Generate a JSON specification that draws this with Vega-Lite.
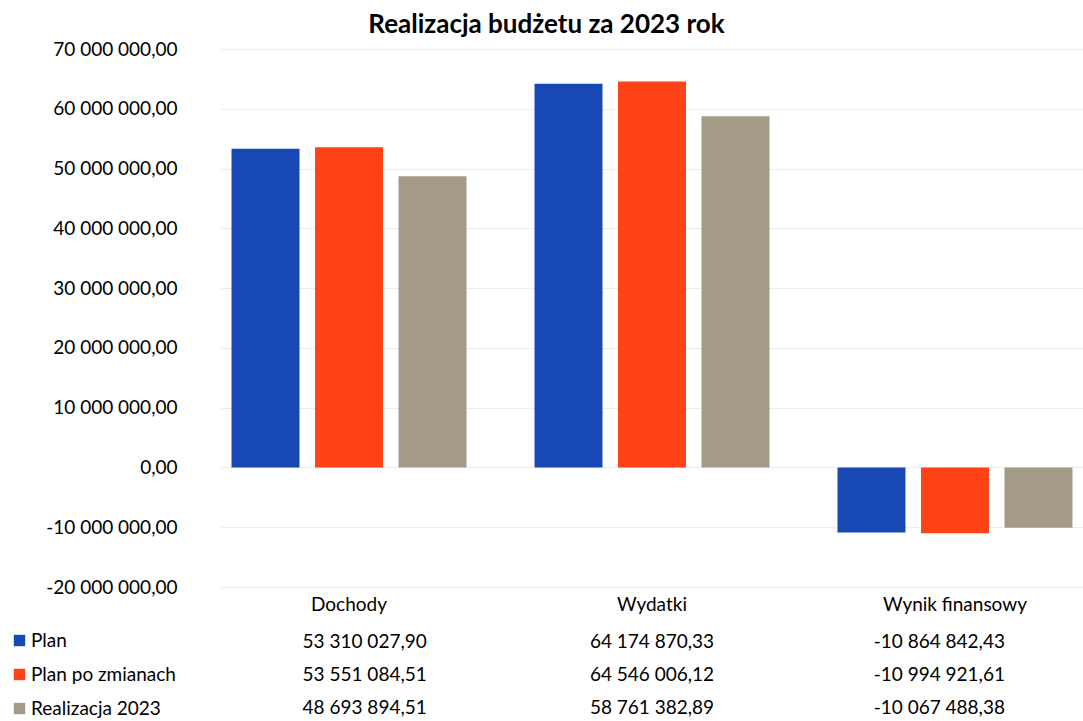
{
  "$schema": "https://vega.github.io/schema/vega-lite/v6.json",
  "autosize": {"type": "pad"},
  "padding": {"left": 10, "top": 12, "right": 0, "bottom": 0},
  "background": "white",
  "config": {
    "locale": {"number": {"decimal": ",", "thousands": " ", "grouping": [3], "currency": ["", " zł"], "minus": "-"}},
    "view": {"stroke": null},
    "font": "Lato",
    "axis": {"labelColor": "#000000", "labelFont": "Lato"},
    "text": {"font": "Lato"}
  },
  "title": {"text": "Realizacja budżetu za 2023 rok", "fontSize": 26, "fontWeight": "bold", "font": "Lato", "color": "#000000", "anchor": "middle", "offset": 2},
  "datasets": {
    "budget": [
      {"category": "Dochody", "series": "Plan", "value": 53310027.90},
      {"category": "Dochody", "series": "Plan po zmianach", "value": 53551084.51},
      {"category": "Dochody", "series": "Realizacja 2023", "value": 48693894.51},
      {"category": "Wydatki", "series": "Plan", "value": 64174870.33},
      {"category": "Wydatki", "series": "Plan po zmianach", "value": 64546006.12},
      {"category": "Wydatki", "series": "Realizacja 2023", "value": 58761382.89},
      {"category": "Wynik finansowy", "series": "Plan", "value": -10864842.43},
      {"category": "Wynik finansowy", "series": "Plan po zmianach", "value": -10994921.61},
      {"category": "Wynik finansowy", "series": "Realizacja 2023", "value": -10067488.38}
    ]
  },
  "bounds": "flush",
  "spacing": 37,
  "vconcat": [
    {
      "width": 862,
      "height": 538,
      "data": {"name": "budget"},
      "mark": {"type": "bar"},
      "encoding": {
        "x": {
          "field": "category", "type": "nominal",
          "sort": ["Dochody", "Wydatki", "Wynik finansowy"],
          "scale": {"paddingInner": 0.155, "paddingOuter": 0},
          "axis": {"title": null, "orient": "bottom", "domain": false, "ticks": false, "labelAngle": 0, "labelFontSize": 19, "labelPadding": 8}
        },
        "xOffset": {
          "field": "series", "type": "nominal",
          "sort": ["Plan", "Plan po zmianach", "Realizacja 2023"],
          "scale": {"paddingInner": 0.186, "paddingOuter": 0.126}
        },
        "y": {
          "field": "value", "type": "quantitative",
          "scale": {"domain": [-20000000, 70000000], "nice": false},
          "axis": {"title": null, "values": [-20000000, -10000000, 0, 10000000, 20000000, 30000000, 40000000, 50000000, 60000000, 70000000], "format": ",.2f", "domain": false, "ticks": false, "labelPadding": 44, "labelFontSize": 19, "gridColor": "#ececec"}
        },
        "color": {
          "field": "series", "type": "nominal",
          "sort": ["Plan", "Plan po zmianach", "Realizacja 2023"],
          "scale": {"domain": ["Plan", "Plan po zmianach", "Realizacja 2023"], "range": ["#1848B3", "#FF4316", "#A39B88"]},
          "legend": {"title": null, "orient": "none", "legendX": -211, "legendY": 582, "direction": "vertical", "symbolType": "square", "symbolSize": 130, "symbolStrokeWidth": 0, "labelFontSize": 19, "labelColor": "#000000", "labelFont": "Lato", "rowPadding": 14, "labelOffset": 2, "symbolOpacity": 1}
        }
      }
    },
    {
      "width": 862,
      "height": 99,
      "data": {"name": "budget"},
      "mark": {"type": "text", "fontSize": 19, "color": "#000000", "dy": 1},
      "encoding": {
        "x": {
          "field": "category", "type": "nominal",
          "sort": ["Dochody", "Wydatki", "Wynik finansowy"],
          "scale": {"paddingInner": 0.155, "paddingOuter": 0},
          "axis": null
        },
        "y": {
          "field": "series", "type": "nominal",
          "sort": ["Plan", "Plan po zmianach", "Realizacja 2023"],
          "scale": {"paddingInner": 0, "paddingOuter": 0},
          "axis": null
        },
        "text": {"field": "value", "type": "quantitative", "format": ",.2f"}
      }
    }
  ]
}
